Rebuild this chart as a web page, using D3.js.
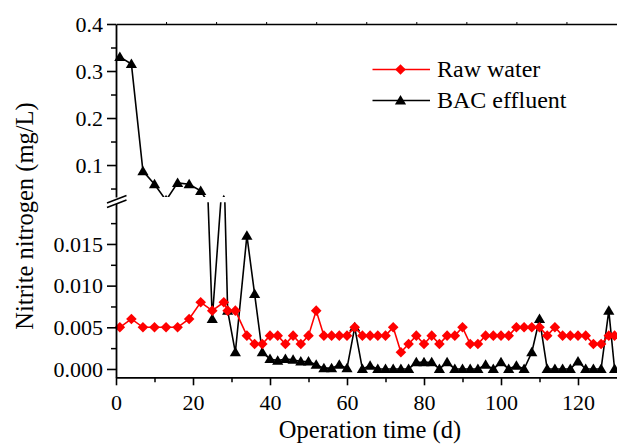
<!DOCTYPE html>
<html>
<head>
<meta charset="utf-8">
<script src="https://cdn.jsdelivr.net/npm/d3@7"></script>
<style>
  body { margin: 0; background: #fff; }
  svg { display: block; }
  svg text { font-family: "Liberation Serif", "Times New Roman", Times, "DejaVu Serif", serif; }
</style>
</head>
<body>
<svg id="chart" width="617" height="445"></svg>
<script>
// operation days, shared by both series
var days = [1, 4, 7, 10, 13, 16, 19, 22, 25, 28, 29, 31, 34, 36, 38,
  40, 42, 44, 46, 48, 50, 52, 54, 56, 58, 60, 62, 64, 66, 68, 70,
  72, 74, 76, 78, 80, 82, 84, 86, 88, 90, 92, 94, 96, 98, 100,
  102, 104, 106, 108, 110, 112, 114, 116, 118, 120, 122, 124, 126, 128, 129.5];

// nitrite nitrogen (mg/L)
var rawWater = [0.005, 0.006, 0.005, 0.005, 0.005, 0.005, 0.006, 0.008, 0.007, 0.008, 0.007, 0.007, 0.004, 0.003, 0.003,
  0.004, 0.004, 0.003, 0.004, 0.003, 0.004, 0.007, 0.004, 0.004, 0.004, 0.004, 0.005, 0.004, 0.004, 0.004, 0.004,
  0.005, 0.002, 0.003, 0.004, 0.003, 0.004, 0.003, 0.004, 0.004, 0.005, 0.003, 0.003, 0.004, 0.004, 0.004,
  0.004, 0.005, 0.005, 0.005, 0.005, 0.004, 0.005, 0.004, 0.004, 0.004, 0.004, 0.003, 0.003, 0.004, 0.004];

var bacEffluent = [0.330, 0.315, 0.087, 0.059, 0.025, 0.062, 0.059, 0.045, 0.006, 0.025, 0.007, 0.002, 0.016, 0.009, 0.002,
  0.0012, 0.001, 0.0012, 0.0011, 0.0009, 0.0009, 0.0005, 0.0001, 0.0001, 0.0005, 0.0001, 0.005, 0.0, 0.0004, 0.0, 0.0,
  0.0, 0.0, 0.0, 0.0008, 0.0008, 0.0008, 0.0, 0.0008, 0.0, 0.0, 0.0, 0.0, 0.0005, 0.0, 0.0008,
  0.0, 0.0004, 0.0, 0.002, 0.006, 0.0, 0.0, 0.0, 0.0, 0.0009, 0.0, 0.0, 0.0, 0.007, 0.0];

var xTicks = [0, 20, 40, 60, 80, 100, 120];
var xMinor = [10, 30, 50, 70, 90, 110];
var topTicks = [10, 20, 30, 40, 50, 60, 70, 80, 90];
var upperTicks = [0.1, 0.2, 0.3, 0.4];
var upperMinor = [0.05, 0.15, 0.25, 0.35];
var lowerTicks = [0.000, 0.005, 0.010, 0.015];
var lowerMinor = [0.0025, 0.0075, 0.0125, 0.0175];

var svg = d3.select("#chart");

var x = d3.scaleLinear().domain([0, 130]).range([116, 616.5]);
var xTop = d3.scaleLinear().domain([0, 100]).range([116, 616.5]);
var yUp = d3.scaleLinear().domain([0.032, 0.4]).range([197, 24]);
var yLow = d3.scaleLinear().domain([-0.001, 0.02]).range([377.3, 202.3]);

var points = days.map(function(d, i) {
    return {day: d, raw: rawWater[i], bac: bacEffluent[i]};
});

// clip regions for the two parts of the broken axis
var defs = svg.append("defs");
defs.append("clipPath").attr("id", "clipUp")
    .append("rect").attr("x", 0).attr("y", yUp.range()[1])
    .attr("width", 617).attr("height", yUp.range()[0] - yUp.range()[1]);
defs.append("clipPath").attr("id", "clipLow")
    .append("rect").attr("x", 0).attr("y", yLow.range()[1])
    .attr("width", 617).attr("height", yLow.range()[0] - yLow.range()[1]);

var diamond = "M0,-5.3L5.3,0L0,5.3L-5.3,0Z";
var triangle = "M0,-5.5L5.6,4L-5.6,4Z";

function drawPanel(y, clipId) {
    var g = svg.append("g").attr("clip-path", "url(#" + clipId + ")");

    var lineBac = d3.line()
        .x(function(d) { return x(d.day); })
        .y(function(d) { return y(d.bac); });
    var lineRaw = d3.line()
        .x(function(d) { return x(d.day); })
        .y(function(d) { return y(d.raw); });

    g.append("path").datum(points)
        .attr("d", lineBac)
        .attr("fill", "none").attr("stroke", "#000").attr("stroke-width", 1.6);
    g.selectAll("path.tri").data(points).enter()
        .append("path").attr("class", "tri")
        .attr("d", triangle)
        .attr("transform", function(d) { return "translate(" + x(d.day) + "," + y(d.bac) + ")"; })
        .attr("fill", "#000");

    g.append("path").datum(points)
        .attr("d", lineRaw)
        .attr("fill", "none").attr("stroke", "#ff0000").attr("stroke-width", 1.6);
    g.selectAll("path.dia").data(points).enter()
        .append("path").attr("class", "dia")
        .attr("d", diamond)
        .attr("transform", function(d) { return "translate(" + x(d.day) + "," + y(d.raw) + ")"; })
        .attr("fill", "#ff0000");
}

drawPanel(yUp, "clipUp");
drawPanel(yLow, "clipLow");

function styleAxis(g, size) {
    g.attr("font-family", null).attr("font-size", size);
    g.selectAll("path.domain").attr("stroke-width", 1.8);
    g.selectAll("line").attr("stroke-width", 1.6);
    g.selectAll("text").attr("fill", "#000");
}

// left axis, upper part
var gUp = svg.append("g").attr("transform", "translate(116,0)")
    .call(d3.axisLeft(yUp).tickValues(upperTicks).tickSize(9).tickSizeOuter(0)
        .tickPadding(4).tickFormat(d3.format(".1f")));
styleAxis(gUp, 22);
svg.append("g").attr("transform", "translate(116,0)")
    .call(d3.axisLeft(yUp).tickValues(upperMinor).tickSize(5).tickFormat(""))
    .call(function(g) { g.select(".domain").remove(); g.selectAll("line").attr("stroke-width", 1.5); });

// left axis, lower part
var gLow = svg.append("g").attr("transform", "translate(116,0)")
    .call(d3.axisLeft(yLow).tickValues(lowerTicks).tickSize(9).tickSizeOuter(0)
        .tickPadding(4).tickFormat(d3.format(".3f")));
styleAxis(gLow, 22);
svg.append("g").attr("transform", "translate(116,0)")
    .call(d3.axisLeft(yLow).tickValues(lowerMinor).tickSize(5).tickFormat(""))
    .call(function(g) { g.select(".domain").remove(); g.selectAll("line").attr("stroke-width", 1.5); });

// bottom axis
var gX = svg.append("g").attr("transform", "translate(0," + yLow.range()[0] + ")")
    .call(d3.axisBottom(x).tickValues(xTicks).tickSize(8).tickSizeOuter(0).tickPadding(9));
styleAxis(gX, 22);
svg.append("g").attr("transform", "translate(0," + yLow.range()[0] + ")")
    .call(d3.axisBottom(x).tickValues(xMinor).tickSize(5).tickFormat(""))
    .call(function(g) { g.select(".domain").remove(); g.selectAll("line").attr("stroke-width", 1.5); });

// top border of the upper layer
svg.append("g").attr("transform", "translate(0," + yUp.range()[1] + ")")
    .call(d3.axisTop(xTop).tickValues(topTicks).tickSize(2).tickSizeOuter(0).tickFormat(""))
    .call(function(g) {
        g.select(".domain").attr("stroke-width", 1.5);
        g.selectAll("line").attr("stroke-width", 1);
    });

// axis break marks
svg.append("path")
    .attr("d", "M107,203L126.5,195.5L126.5,200L107,207.5Z")
    .attr("fill", "#fff");
svg.append("path")
    .attr("d", "M107,203L126.5,195.5M107,207.5L126.5,200")
    .attr("stroke", "#000").attr("stroke-width", 1.6).attr("fill", "none");

// axis titles
svg.append("text")
    .attr("x", 370).attr("y", 438)
    .attr("text-anchor", "middle")
    .attr("font-size", 24.5)
    .text("Operation time (d)");

svg.append("text")
    .attr("transform", "translate(33,216)rotate(-90)")
    .attr("text-anchor", "middle")
    .attr("font-size", 24.5)
    .text("Nitrite nitrogen (mg/L)");

// legend
var legend = [
    {name: "Raw water", color: "#ff0000", shape: diamond, y: 69.5},
    {name: "BAC effluent", color: "#000", shape: triangle, y: 100.5}
];
var lg = svg.append("g");
legend.forEach(function(l) {
    lg.append("line")
        .attr("x1", 372.5).attr("x2", 430)
        .attr("y1", l.y).attr("y2", l.y)
        .attr("stroke", l.color).attr("stroke-width", 1.6);
    lg.append("path")
        .attr("d", l.shape)
        .attr("transform", "translate(400.5," + l.y + ")")
        .attr("fill", l.color);
    lg.append("text")
        .attr("x", 437).attr("y", l.y + 7.5)
        .attr("font-size", 24)
        .text(l.name);
});
</script>
</body>
</html>
